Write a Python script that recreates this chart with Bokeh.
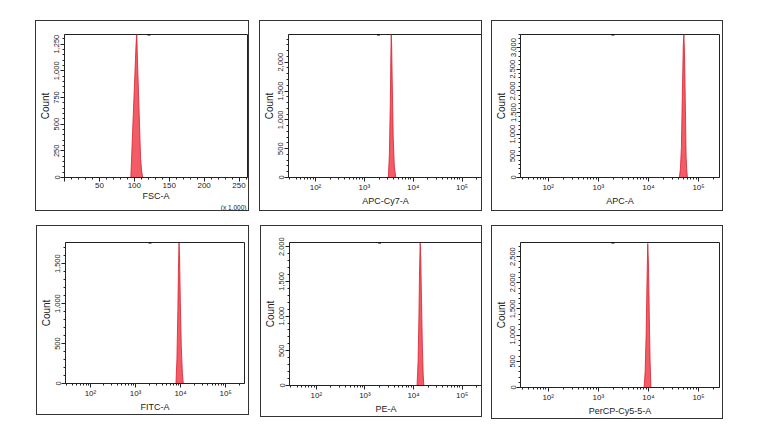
from bokeh.plotting import figure
from bokeh.layouts import column, row
from bokeh.models import (Range1d, SingleIntervalTicker, LogTicker, NumeralTickFormatter,
                          CustomJSTickFormatter, Title, Spacer)
from bokeh.embed import file_html
from bokeh.resources import INLINE

# ---------------- data ----------------
# FSC-A, linear, in thousands
fsc_x = [95.0, 96.5, 98.0, 99.5, 101.0, 102.5, 103.5, 104.5, 106.0, 107.5, 109.0, 110.5, 112.0]
fsc_y = [0, 250, 500, 750, 1000, 1250, 1340, 1110, 800, 490, 180, 60, 0]
# APC-Cy7-A
apccy7_x = [3100, 3250, 3400, 3500, 3550, 3620, 3750, 3900, 4100, 4400]
apccy7_y = [0, 400, 1300, 2200, 2480, 2300, 1500, 700, 200, 0]
# APC-A
apc_x = [41500, 43500, 45500, 47500, 49500, 51000, 52500, 54500, 56500, 58000, 60000]
apc_y = [0, 200, 700, 1900, 3000, 3300, 2900, 1700, 500, 200, 0]
# FITC-A
fitc_x = [7900, 8300, 8700, 9000, 9250, 9500, 9900, 10400, 11000, 11500]
fitc_y = [0, 300, 900, 1500, 1760, 1600, 1000, 450, 120, 0]
# PE-A
pe_x = [11800, 12400, 12900, 13300, 13700, 14100, 14600, 15200, 15800, 16300]
pe_y = [0, 350, 1000, 1700, 2050, 1800, 1200, 550, 150, 0]
# PerCP-Cy5-5-A
percp_x = [8200, 8600, 9000, 9350, 9700, 10000, 10400, 10800, 11200]
percp_y = [0, 300, 1000, 2000, 2750, 2400, 1400, 500, 0]

axis_labels = ["FSC-A", "APC-Cy7-A", "APC-A", "FITC-A", "PE-A", "PerCP-Cy5-5-A"]
y_max = [1340, 2480, 3300, 1765, 2060, 2770]
y_interval = [250, 500, 500, 500, 500, 500]
marker_x = [121, 1950, 1950, 2100, 2000, 1950]   # small gate mark on the top edge
fsc_scale_note = "(x 1,000)"

lin_range = (0, 262.144)
log_range = (28, 262144)

# ---------------- layout geometry (outer box, frame) ----------------
geom = [
    ((35, 20, 250, 212), (60, 34, 246, 178)),
    ((261, 20, 485, 212), (287, 34, 483, 178)),
    ((495, 20, 728, 212), (522, 34, 722, 178)),
    ((36, 227, 250, 418), (58, 244, 243, 384)),
    ((262, 227, 485, 420), (288, 244, 483, 386)),
    ((495, 227, 728, 422), (522, 244, 722, 388)),
]

series = [(fsc_x, fsc_y), (apccy7_x, apccy7_y), (apc_x, apc_y),
          (fitc_x, fitc_y), (pe_x, pe_y), (percp_x, percp_y)]

FONT = "Liberation Sans"
FILL = "#f25c66"
EDGE = "#d82030"
INK = "#222222"

sup_fmt = CustomJSTickFormatter(code="""
const sup = {'0':'\u2070','1':'\u00b9','2':'\u00b2','3':'\u00b3','4':'\u2074','5':'\u2075','6':'\u2076'};
const e = Math.round(Math.log10(tick));
return '10' + String(e).split('').map(c => sup[c]).join('');
""")


def make_panel(i):
    (L, T, R, B), (fl, ft, fr, fb) = geom[i]
    is_log = i != 0
    xr = log_range if is_log else lin_range
    p = figure(width=R - L - 1, height=B - T - 1,
               x_axis_type="log" if is_log else "linear",
               x_range=Range1d(*xr), y_range=Range1d(0, y_max[i]),
               output_backend="svg", toolbar_location=None,
               min_border_left=fl - (L + 1), min_border_right=max(0, (R - 1) - fr),
               min_border_top=ft - (T + 1), min_border_bottom=(B - 1) - fb,
               styles={"border": "1px solid #333333"})
    p.grid.visible = False
    p.outline_line_color = INK
    p.outline_line_alpha = 1
    p.background_fill_color = "white"
    p.border_fill_color = "white"

    xs, ys = series[i]
    p.patch(xs, ys, fill_color=FILL, line_color=EDGE, line_width=0.8)
    p.scatter([marker_x[i]], [y_max[i]], marker="dash", size=3, line_color="black", line_width=2)

    xa = p.xaxis[0]
    ya = p.yaxis[0]
    if is_log:
        xa.ticker = LogTicker(num_minor_ticks=10)
        xa.formatter = sup_fmt
    else:
        xa.ticker = SingleIntervalTicker(interval=50, num_minor_ticks=5)
        xa.major_label_overrides = {0: ""}
    ya.ticker = SingleIntervalTicker(interval=y_interval[i], num_minor_ticks=5)
    ya.formatter = NumeralTickFormatter(format="0,0")
    ya.major_label_orientation = "vertical"

    for ax in (xa, ya):
        ax.axis_line_color = INK
        ax.major_tick_line_color = INK
        ax.minor_tick_line_color = INK
        ax.major_tick_in = 0
        ax.major_tick_out = 4
        ax.minor_tick_in = 0
        ax.minor_tick_out = 2
        ax.major_label_text_font = FONT
        ax.major_label_text_color = INK
        ax.axis_label_text_font = FONT
        ax.axis_label_text_color = INK
        ax.axis_label_text_font_style = "normal"
        ax.major_label_standoff = 1
        ax.axis_label_standoff = 1
    xa.major_label_text_font_size = "8px"
    ya.major_label_text_font_size = "7.5px"
    xa.axis_label = axis_labels[i]
    xa.axis_label_text_font_size = "9px"
    ya.axis_label = "Count"
    ya.axis_label_text_font_size = "10px"

    if i == 0:
        xa.axis_label_standoff = 0
        p.add_layout(Title(text=fsc_scale_note, align="right", vertical_align="top",
                           text_font=FONT, text_font_size="6.5px", text_font_style="normal",
                           text_color=INK, standoff=0, offset=1), "below")
    return p


panels = [make_panel(i) for i in range(6)]


def build_row(idx):
    items = []
    cur = 0
    for i in idx:
        L = geom[i][0][0]
        if L - cur > 0:
            items.append(Spacer(width=L - cur, height=1))
        items.append(panels[i])
        cur = geom[i][0][2] + 1
    return row(*items)


row1 = build_row([0, 1, 2])
row2 = build_row([3, 4, 5])
row1_h = max(geom[i][0][3] - geom[i][0][1] + 1 for i in range(3))
layout = column(Spacer(height=20, width=1), row1,
                Spacer(height=227 - (20 + row1_h), width=1), row2)

open("out.html", "w").write(file_html(layout, INLINE))
